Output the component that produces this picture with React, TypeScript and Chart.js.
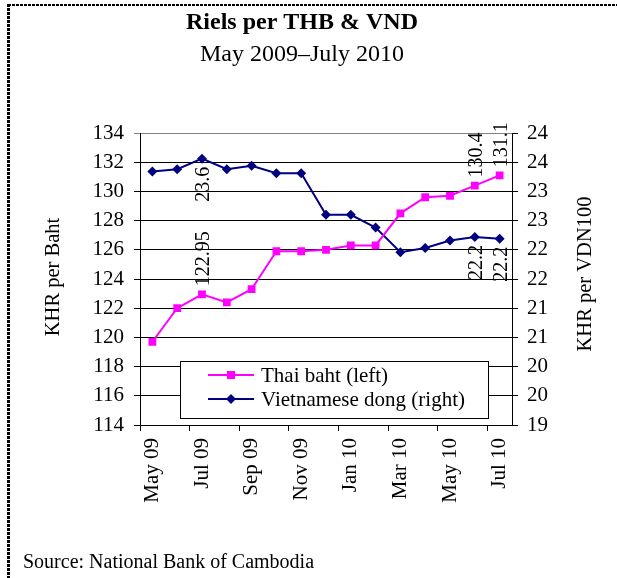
import React, { useEffect, useRef } from 'react';
import { Chart, registerables } from 'chart.js';

Chart.register(...registerables);

const SERIF = '"Liberation Serif", "Times New Roman", "DejaVu Serif", serif';

const months = ['May 09', 'Jun 09', 'Jul 09', 'Aug 09', 'Sep 09', 'Oct 09', 'Nov 09', 'Dec 09', 'Jan 10', 'Feb 10', 'Mar 10', 'Apr 10', 'May 10', 'Jun 10', 'Jul 10'];
const thaiBaht = [119.7, 122.0, 122.95, 122.4, 123.3, 125.9, 125.9, 126.0, 126.3, 126.3, 128.5, 129.6, 129.7, 130.4, 131.1];
const vnDong = [23.34, 23.38, 23.56, 23.38, 23.44, 23.31, 23.31, 22.6, 22.6, 22.38, 21.96, 22.03, 22.16, 22.22, 22.19];
const leftAxis = { min: 114, max: 134, step: 2 };
const rightAxis = { min: 19, max: 24, step: 0.5 };
const bahtLabelIdx = [2, 13, 14];
const dongLabelIdx = [2, 13, 14];

const titleText = 'Riels per THB & VND';
const subtitleText = 'May 2009\u2013July 2010';
const leftTitle = 'KHR per Baht';
const rightTitle = 'KHR per VDN100';
const sourceText = 'Source: National Bank of Cambodia';
const legendLabels = ['Thai baht (left)', 'Vietnamese dong (right)'];

const BAHT_COLOR = '#FF00FF';
const DONG_COLOR = '#000080';

function drawMarker(ctx: CanvasRenderingContext2D, kind: string, x: number, y: number, color: string) {
  ctx.save();
  ctx.fillStyle = color;
  ctx.beginPath();
  if (kind === 'rect') {
    ctx.rect(x - 4, y - 4, 8, 8);
  } else {
    ctx.moveTo(x, y - 5);
    ctx.lineTo(x + 5, y);
    ctx.lineTo(x, y + 5);
    ctx.lineTo(x - 5, y);
    ctx.closePath();
  }
  ctx.fill();
  ctx.restore();
}

const decor = {
  id: 'decor',
  beforeDraw(chart: any) {
    const ctx = chart.ctx as CanvasRenderingContext2D;
    ctx.save();
    ctx.fillStyle = '#fff';
    ctx.fillRect(0, 0, chart.width, chart.height);
    ctx.restore();
  },
  afterDatasetsDraw(chart: any) {
    const ctx = chart.ctx as CanvasRenderingContext2D;
    ctx.save();
    ctx.fillStyle = '#000';
    ctx.font = `20px ${SERIF}`;
    ctx.textBaseline = 'middle';
    const gap = 8;
    const m0 = chart.getDatasetMeta(0);
    bahtLabelIdx.forEach((i) => {
      const p = m0.data[i];
      ctx.save();
      ctx.translate(p.x + 2, p.y);
      ctx.rotate(-Math.PI / 2);
      ctx.textAlign = 'left';
      ctx.fillText(String(thaiBaht[i]), gap, 0);
      ctx.restore();
    });
    const m1 = chart.getDatasetMeta(1);
    dongLabelIdx.forEach((i) => {
      const p = m1.data[i];
      ctx.save();
      ctx.translate(p.x + 2, p.y);
      ctx.rotate(-Math.PI / 2);
      ctx.textAlign = 'right';
      ctx.fillText(vnDong[i].toFixed(1), -gap, 0);
      ctx.restore();
    });
    ctx.restore();

    // legend
    ctx.save();
    const lx = 180.5, ly = 361.5, lw = 308, lh = 57;
    ctx.fillStyle = '#fff';
    ctx.fillRect(lx, ly, lw, lh);
    ctx.strokeStyle = '#000';
    ctx.lineWidth = 1;
    ctx.strokeRect(lx, ly, lw, lh);
    const rows = [375, 399];
    const colors = [BAHT_COLOR, DONG_COLOR];
    const kinds = ['rect', 'rectRot'];
    rows.forEach((ry, k) => {
      ctx.strokeStyle = colors[k];
      ctx.lineWidth = 2;
      ctx.beginPath();
      ctx.moveTo(208, ry);
      ctx.lineTo(254, ry);
      ctx.stroke();
      drawMarker(ctx, kinds[k], 231, ry, colors[k]);
      ctx.fillStyle = '#000';
      ctx.font = `21px ${SERIF}`;
      ctx.textAlign = 'left';
      ctx.textBaseline = 'middle';
      ctx.fillText(legendLabels[k], 261, ry + 1);
    });
    ctx.restore();
  },
  afterDraw(chart: any) {
    const ctx = chart.ctx as CanvasRenderingContext2D;
    ctx.save();
    ctx.fillStyle = '#000';
    ctx.textAlign = 'center';
    ctx.textBaseline = 'middle';
    ctx.font = `bold 24px ${SERIF}`;
    ctx.fillText(titleText, 302, 23);
    ctx.font = `24px ${SERIF}`;
    ctx.fillText(subtitleText, 302, 55);

    ctx.font = `20.5px ${SERIF}`;
    ctx.save();
    ctx.translate(54, 277);
    ctx.rotate(-Math.PI / 2);
    ctx.fillText(leftTitle, 0, 0);
    ctx.restore();
    ctx.save();
    ctx.translate(586, 274);
    ctx.rotate(-Math.PI / 2);
    ctx.fillText(rightTitle, 0, 0);
    ctx.restore();

    ctx.font = `20px ${SERIF}`;
    ctx.textAlign = 'left';
    ctx.fillText(sourceText, 23, 563);

    // dashed frame
    ctx.strokeStyle = '#000';
    ctx.setLineDash([3, 1]);
    ctx.lineWidth = 2;
    ctx.beginPath();
    ctx.moveTo(8, 5);
    ctx.lineTo(617, 5);
    ctx.stroke();
    ctx.lineWidth = 3;
    ctx.beginPath();
    ctx.moveTo(8.5, 4);
    ctx.lineTo(8.5, 578);
    ctx.stroke();
    ctx.restore();
  },
};

export default function App() {
  const ref = useRef<HTMLCanvasElement>(null);
  useEffect(() => {
    const canvas = ref.current;
    if (!canvas) return;
    const tickFont = { family: SERIF, size: 21 };
    const chart = new Chart(canvas, {
      type: 'line',
      data: {
        labels: months,
        datasets: [
          {
            label: legendLabels[0],
            data: thaiBaht,
            yAxisID: 'y',
            borderColor: BAHT_COLOR,
            backgroundColor: BAHT_COLOR,
            borderWidth: 2,
            pointStyle: 'rect',
            pointRadius: 5.5,
            pointBorderWidth: 0,
            tension: 0,
          },
          {
            label: legendLabels[1],
            data: vnDong,
            yAxisID: 'y1',
            borderColor: DONG_COLOR,
            backgroundColor: DONG_COLOR,
            borderWidth: 2,
            pointStyle: 'rectRot',
            pointRadius: 5,
            pointBorderWidth: 0,
            tension: 0,
          },
        ],
      },
      options: {
        responsive: false,
        animation: false,
        events: [],
        layout: { padding: { top: 133, left: 0, right: 0, bottom: 0 } },
        plugins: {
          legend: { display: false },
          title: { display: false },
          tooltip: { enabled: false },
        },
        scales: {
          x: {
            type: 'category',
            offset: true,
            grid: {
              offset: true,
              drawOnChartArea: false,
              tickLength: 6,
              lineWidth: 1,
              color: (c: any) => (c.index % 2 === 0 ? '#000' : 'rgba(0,0,0,0)'),
            },
            border: { color: '#000', width: 1 },
            ticks: {
              autoSkip: false,
              maxRotation: 90,
              minRotation: 90,
              padding: 7,
              color: '#000',
              font: tickFont,
              callback: (_v: any, i: number) => (i % 2 === 0 ? months[i] : ''),
            },
            afterFit: (s: any) => {
              s.height = 578 - 425;
            },
          },
          y: {
            type: 'linear',
            position: 'left',
            min: leftAxis.min,
            max: leftAxis.max,
            grid: {
              tickLength: 6,
              lineWidth: 1,
              color: (c: any) => (c.tick && c.tick.value === leftAxis.max ? '#808080' : '#000'),
            },
            border: { color: '#000', width: 1 },
            ticks: { stepSize: leftAxis.step, padding: 10, color: '#000', font: tickFont },
            afterFit: (s: any) => {
              s.width = 140;
            },
          },
          y1: {
            type: 'linear',
            position: 'right',
            min: rightAxis.min,
            max: rightAxis.max,
            grid: { drawOnChartArea: false, tickLength: 6, lineWidth: 1, color: '#000' },
            border: { color: '#000', width: 1 },
            ticks: {
              stepSize: rightAxis.step,
              padding: 9,
              color: '#000',
              font: tickFont,
              callback: (v: any) => String(Math.round(Number(v))),
            },
            afterFit: (s: any) => {
              s.width = 617 - 512;
            },
          },
        },
      },
      plugins: [decor],
    } as any);
    return () => chart.destroy();
  }, []);
  return (
    <div style={{ position: 'absolute', left: 0, top: 0, width: 617, height: 578, background: '#fff' }}>
      <canvas ref={ref} width={617} height={578} style={{ display: 'block' }} />
    </div>
  );
}
